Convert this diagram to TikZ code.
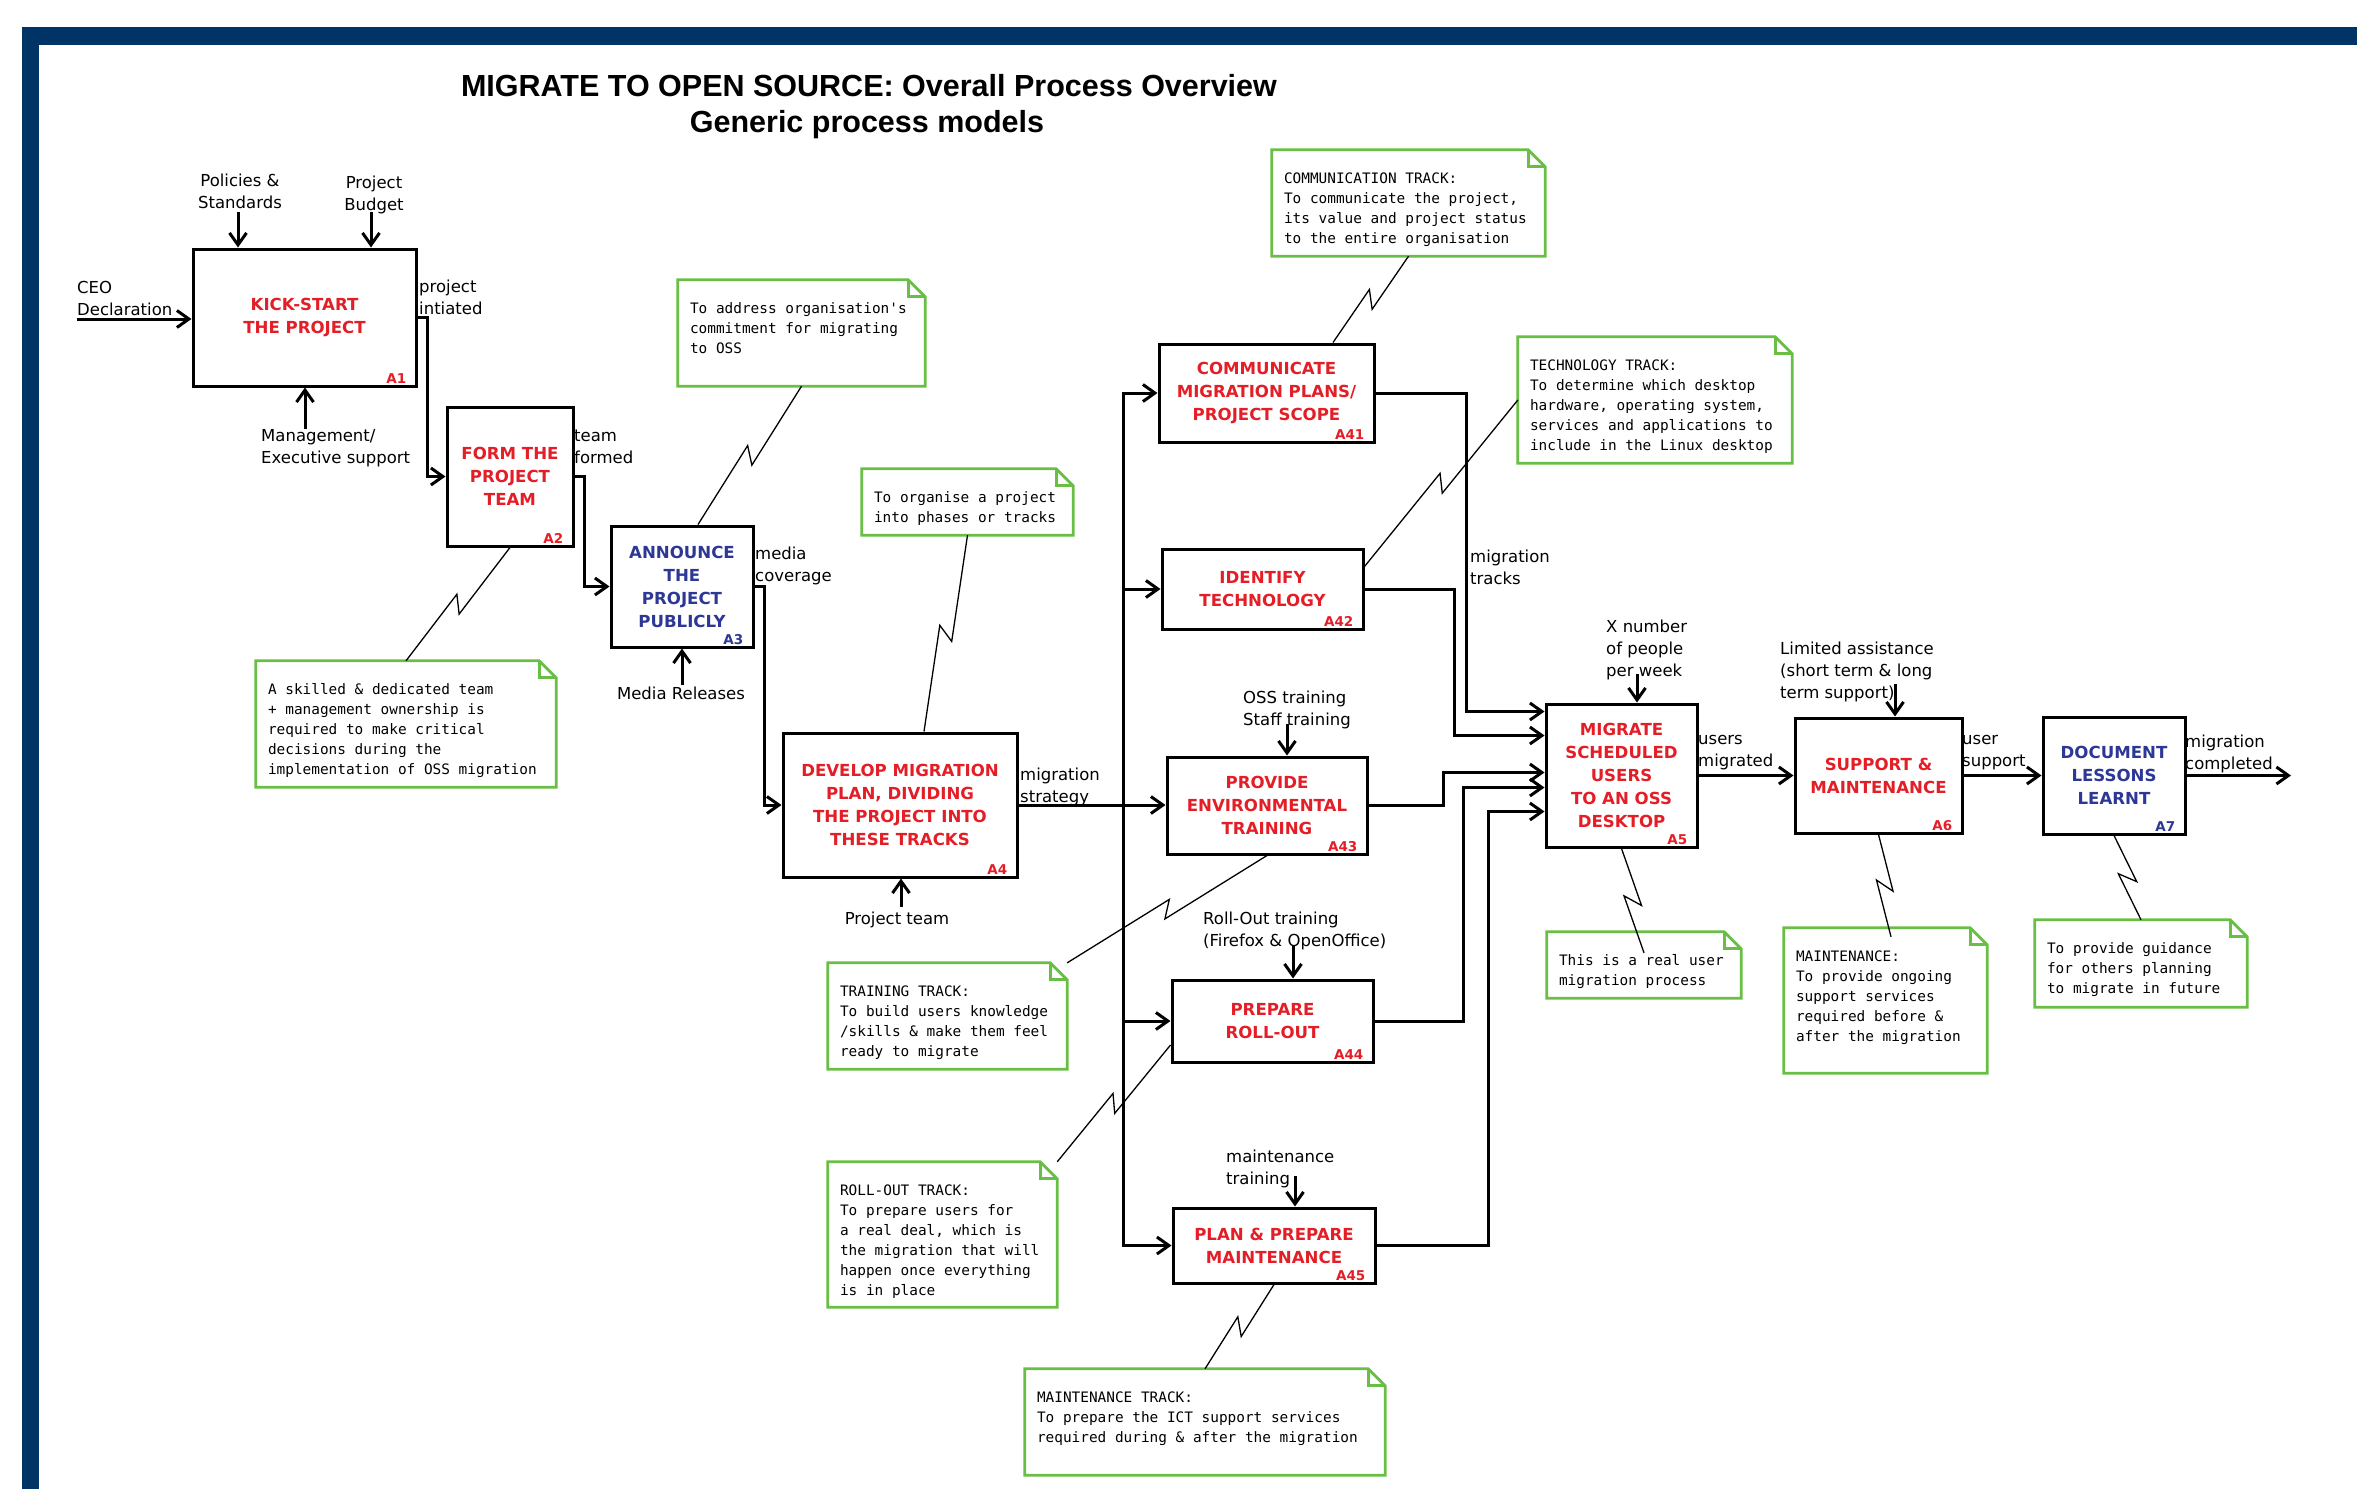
\documentclass[tikz,border=0pt]{standalone}
\usepackage{fontspec}
\setmainfont{DejaVu Sans}
\setmonofont{DejaVu Sans Mono}
\newfontfamily\titlefont{Liberation Sans}
\usetikzlibrary{arrows.meta,calc}

\definecolor{frameblue}{RGB}{0,51,102}
\definecolor{boxred}{RGB}{228,30,38}
\definecolor{boxblue}{RGB}{45,55,150}
\definecolor{notegreen}{RGB}{105,190,70}

\tikzset{
  proc/.style={draw=black, line width=3pt, fill=white, inner sep=0pt, align=center,
    font=\bfseries\fontsize{16.6}{23}\selectfont, text=boxred},
  procblue/.style={proc, text=boxblue},
  pid/.style={anchor=base east, inner sep=0pt, font=\bfseries\fontsize{13.5}{15}\selectfont, text=boxred},
  pidblue/.style={pid, text=boxblue},
  flow/.style={line width=3pt, line cap=rect, -{Straight Barb[length=12pt,width=17pt]}},
  flowboth/.style={line width=3pt, {Straight Barb[length=12pt,width=17pt]}-{Straight Barb[length=12pt,width=17pt]}},
  lbl/.style={anchor=north west, inner sep=0pt, align=left, yshift=-4pt, font=\fontsize{16.5}{22}\selectfont},
  lblc/.style={anchor=north, inner sep=0pt, align=center, yshift=-4pt, font=\fontsize{16.5}{22}\selectfont},
  titlef/.style={inner sep=0pt, font=\titlefont\bfseries\fontsize{30.5}{36}\selectfont},
  noteshape/.style={inner sep=0pt},
  notetxt/.style={anchor=north west, inner sep=0pt, align=left, font=\ttfamily\fontsize{14.4}{20}\selectfont},
  noteline/.style={draw=notegreen, line width=2.8pt, line join=miter},
  sqline/.style={line width=1.3pt},
}

\newcommand\notebox[6]{%
  \node[noteshape, minimum width=#4pt, minimum height=#5pt] (#1) at (#2,#3) {};
  \draw[noteline] (#1.north west) -- ([xshift=-17pt]#1.north east) -- ([yshift=-17pt]#1.north east)
     -- (#1.south east) -- (#1.south west) -- cycle;
  \draw[noteline] ([xshift=-17pt]#1.north east) -- ([xshift=-17pt,yshift=-17pt]#1.north east)
     -- ([yshift=-17pt]#1.north east);
  \node[notetxt] (#1txt) at ([shift={(12,19)}]#1.north west) {\strut #6};
}

\newcommand\squig[2]{%
  \coordinate (sqm) at ($(#1)!0.5!(#2)$);
  \draw[sqline] (#1) -- ($(sqm)!10pt!49:(#2)$) -- ($(sqm)!10pt!-131:(#2)$) -- (#2);
}

\begin{document}
\begin{tikzpicture}[x=1pt,y=-1pt]
\useasboundingbox (0,0) rectangle (2357,1489);
\fill[white] (0,0) rectangle (2357,1489);
\fill[frameblue] (22,27) rectangle (2357,1489);
\fill[white] (39,45) rectangle (2357,1489);

% titles
\node[titlef, anchor=base] (title) at (869,96) {MIGRATE TO OPEN SOURCE: Overall Process Overview};
\node[titlef, anchor=base] (subtitle) at (867,132) {Generic process models};

% process boxes
\node[proc, minimum width=223pt, minimum height=137pt] (A1) at (304.5,317.5) {KICK-START\\THE PROJECT};
\node[proc, minimum width=126pt, minimum height=139pt] (A2) at (510,476.5) {FORM THE\\PROJECT\\TEAM};
\node[procblue, minimum width=142pt, minimum height=121pt] (A3) at (682,586.5) {ANNOUNCE\\THE\\PROJECT\\PUBLICLY};
\node[proc, minimum width=234pt, minimum height=144pt] (A4) at (900,805) {DEVELOP MIGRATION\\PLAN, DIVIDING\\THE PROJECT INTO\\THESE TRACKS};
\node[proc, minimum width=215pt, minimum height=98pt] (A41) at (1266.5,393) {COMMUNICATE\\MIGRATION PLANS/\\PROJECT SCOPE};
\node[proc, minimum width=201pt, minimum height=80pt] (A42) at (1262.5,589) {IDENTIFY\\TECHNOLOGY};
\node[proc, minimum width=200pt, minimum height=97pt] (A43) at (1267,805.5) {PROVIDE\\ENVIRONMENTAL\\TRAINING};
\node[proc, minimum width=201pt, minimum height=82pt] (A44) at (1272.5,1021) {PREPARE\\ROLL-OUT};
\node[proc, minimum width=202pt, minimum height=75pt] (A45) at (1274,1245.5) {PLAN \& PREPARE\\MAINTENANCE};
\node[proc, minimum width=151pt, minimum height=143pt] (A5) at (1621.5,775.5) {MIGRATE\\SCHEDULED\\USERS\\TO AN OSS\\DESKTOP};
\node[proc, minimum width=167pt, minimum height=115pt] (A6) at (1878.5,775.5) {SUPPORT \&\\MAINTENANCE};
\node[procblue, minimum width=142pt, minimum height=117pt] (A7) at (2114,775.5) {DOCUMENT\\LESSONS\\LEARNT};

% box ids
\node[pid] (A1id) at ([shift={(-11,-4)}]A1.south east) {A1};
\node[pid] (A2id) at ([shift={(-11,-4)}]A2.south east) {A2};
\node[pidblue] (A3id) at ([shift={(-11,-4)}]A3.south east) {A3};
\node[pid] (A4id) at ([shift={(-11,-4)}]A4.south east) {A4};
\node[pid] (A41id) at ([shift={(-11,-4)}]A41.south east) {A41};
\node[pid] (A42id) at ([shift={(-11,-4)}]A42.south east) {A42};
\node[pid] (A43id) at ([shift={(-11,-4)}]A43.south east) {A43};
\node[pid] (A44id) at ([shift={(-11,-4)}]A44.south east) {A44};
\node[pid] (A45id) at ([shift={(-11,-4)}]A45.south east) {A45};
\node[pid] (A5id) at ([shift={(-11,-4)}]A5.south east) {A5};
\node[pid] (A6id) at ([shift={(-11,-4)}]A6.south east) {A6};
\node[pidblue] (A7id) at ([shift={(-11,-4)}]A7.south east) {A7};

% arrow labels
\node[lbl] (lceo) at (77,276.6) {CEO\\Declaration};
\node[lblc] (lpol) at (240,169.6) {Policies \&\\Standards};
\node[lblc] (lbud) at (374,171.6) {Project\\Budget};
\node[lbl] (lmgt) at (261,425.6) {Management/\\Executive support};
\node[lbl] (lpi) at (419,275.6) {project\\intiated};
\node[lbl] (ltf) at (574,425.6) {team\\formed};
\node[lbl] (lmc) at (755,542.6) {media\\coverage};
\node[lblc] (lmr) at (681,682.6) {Media Releases};
\node[lbl] (lms) at (1020,763.6) {migration\\strategy};
\node[lblc] (lpt) at (897,907.6) {Project team};
\node[lbl] (lmt) at (1470,545.6) {migration\\tracks};
\node[lbl] (loss) at (1243,686.6) {OSS training\\Staff training};
\node[lbl] (lrol) at (1203,907.6) {Roll-Out training\\(Firefox \& OpenOffice)};
\node[lbl] (lmnt) at (1226,1145.6) {maintenance\\training};
\node[lbl] (lxn) at (1606,615.6) {X number\\of people\\per week};
\node[lbl] (lum) at (1698,730.6) {users\\migrated};
\node[lbl] (llim) at (1780,637.6) {Limited assistance\\(short term \& long\\term support)};
\node[lbl] (lus) at (1962,730.6) {user\\support};
\node[lbl] (lmcp) at (2185,730.6) {migration\\completed};

% free ends of external arrows
\coordinate (ceo) at (78,319);
\coordinate (pol) at (238,213);
\coordinate (bud) at (371,213);
\coordinate (mgt) at (305,427);
\coordinate (med) at (682,683);
\coordinate (ptm) at (901,905);
\coordinate (oss) at (1287,725);
\coordinate (rol) at (1293,947);
\coordinate (mnt) at (1295,1177);
\coordinate (xnum) at (1637,675);
\coordinate (lim) at (1895,685);
\coordinate (out) at (2291,775.5);

\draw[flow] (ceo) -- (ceo -| A1.west);
\draw[flow] (pol) -- (pol |- A1.north);
\draw[flow] (bud) -- (bud |- A1.north);
\draw[flow] (mgt) -- (mgt |- A1.south);
\draw[flow] (med) -- (med |- A3.south);
\draw[flow] (ptm) -- (ptm |- A4.south);
\draw[flow] (oss) -- (oss |- A43.north);
\draw[flow] (rol) -- (rol |- A44.north);
\draw[flow] (mnt) -- (mnt |- A45.north);
\draw[flow] (xnum) -- (xnum |- A5.north);
\draw[flow] (lim) -- (lim |- A6.north);

% main flow
\draw[flow] (A1.east) -- ++(10,0) |- (A2.west);
\draw[flow] (A2.east) -- ++(9.5,0) |- (A3.west);
\draw[flow] (A3.east) -- ++(10,0) |- (A4.west);
\draw[flow] (A4.east) -- (A4.east -| A43.west);

\coordinate (bx) at (1123,0);
\draw[flowboth] (A41.west) -- (bx |- A41.west) -- (bx |- A45.west) -- (A45.west);
\draw[flow] (bx |- A42.west) -- (A42.west);
\draw[flow] (bx |- A44.west) -- (A44.west);

\coordinate (i1) at ([yshift=-9pt]A5.north west);
\coordinate (i2) at ([yshift=-33pt]A5.north west);
\coordinate (i3) at ([yshift=-70pt]A5.north west);
\coordinate (i4) at ([yshift=-85pt]A5.north west);
\coordinate (i5) at ([yshift=-109pt]A5.north west);
\coordinate (v1) at (1466,0);
\coordinate (v2) at (1454,0);
\coordinate (v3) at (1443,0);
\coordinate (v4) at (1463,0);
\coordinate (v5) at (1488,0);
\draw[flow] (A41.east) -- (A41.east -| v1) |- (i1);
\draw[flow] (A42.east) -- (A42.east -| v2) |- (i2);
\draw[flow] (A43.east) -- (A43.east -| v3) |- (i3);
\draw[flow] (A44.east) -- (A44.east -| v4) |- (i4);
\draw[flow] (A45.east) -- (A45.east -| v5) |- (i5);

\draw[flow] (A5.east) -- (A6.west);
\draw[flow] (A6.east) -- (A7.west);
\draw[flow] (A7.east) -- (out);

% notes
\notebox{nA3}{801.5}{333}{247}{106}{To address organisation's\\commitment for migrating\\to OSS}
\notebox{nA4}{967.5}{502}{211}{66}{To organise a project\\into phases or tracks}
\notebox{nA2}{406}{724}{300}{126}{A skilled \& dedicated team\\+ management ownership is\\required to make critical\\decisions during the\\implementation of OSS migration}
\notebox{nC}{1408.5}{203}{273}{106}{COMMUNICATION TRACK:\\To communicate the project,\\its value and project status\\to the entire organisation}
\notebox{nT}{1655}{400}{274}{126}{TECHNOLOGY TRACK:\\To determine which desktop\\hardware, operating system,\\services and applications to\\include in the Linux desktop}
\notebox{nTr}{947.5}{1016}{239}{106}{TRAINING TRACK:\\To build users knowledge\\/skills \& make them feel\\ready to migrate}
\notebox{nR}{942.5}{1234.5}{229}{145}{ROLL-OUT TRACK:\\To prepare users for\\a real deal, which is\\the migration that will\\happen once everything\\is in place}
\notebox{nM}{1205}{1422}{360}{106}{MAINTENANCE TRACK:\\To prepare the ICT support services\\required during \& after the migration}
\notebox{nA5}{1644}{965}{194}{66}{This is a real user\\migration process}
\notebox{nM6}{1885.5}{1000.5}{203}{145}{MAINTENANCE:\\To provide ongoing\\support services\\required before \&\\after the migration}
\notebox{nA7}{2141}{963.5}{212}{87}{To provide guidance\\for others planning\\to migrate in future}

% squiggle connectors
\coordinate (s3) at ([xshift=16pt]A3.north);
\coordinate (s4) at ([xshift=24pt]A4.north);
\coordinate (sC) at ([xshift=66.5pt]A41.north);
\coordinate (sT) at ([yshift=-19pt]A42.north east);
\coordinate (sR) at ([yshift=-24pt]A44.west);
\coordinate (n5e) at ([yshift=-21pt]nA5.north);
\coordinate (n6e) at ([xshift=5.5pt,yshift=-9pt]nM6.north);
\squig{nA3.south}{s3}
\squig{nA2.north}{A2.south}
\squig{nA4.south}{s4}
\squig{nC.south}{sC}
\squig{nT.west}{sT}
\squig{nTr.north east}{A43.south}
\squig{nR.north east}{sR}
\squig{nM.north}{A45.south}
\squig{n5e}{A5.south}
\squig{n6e}{A6.south}
\squig{nA7.north}{A7.south}
\end{tikzpicture}
\end{document}
